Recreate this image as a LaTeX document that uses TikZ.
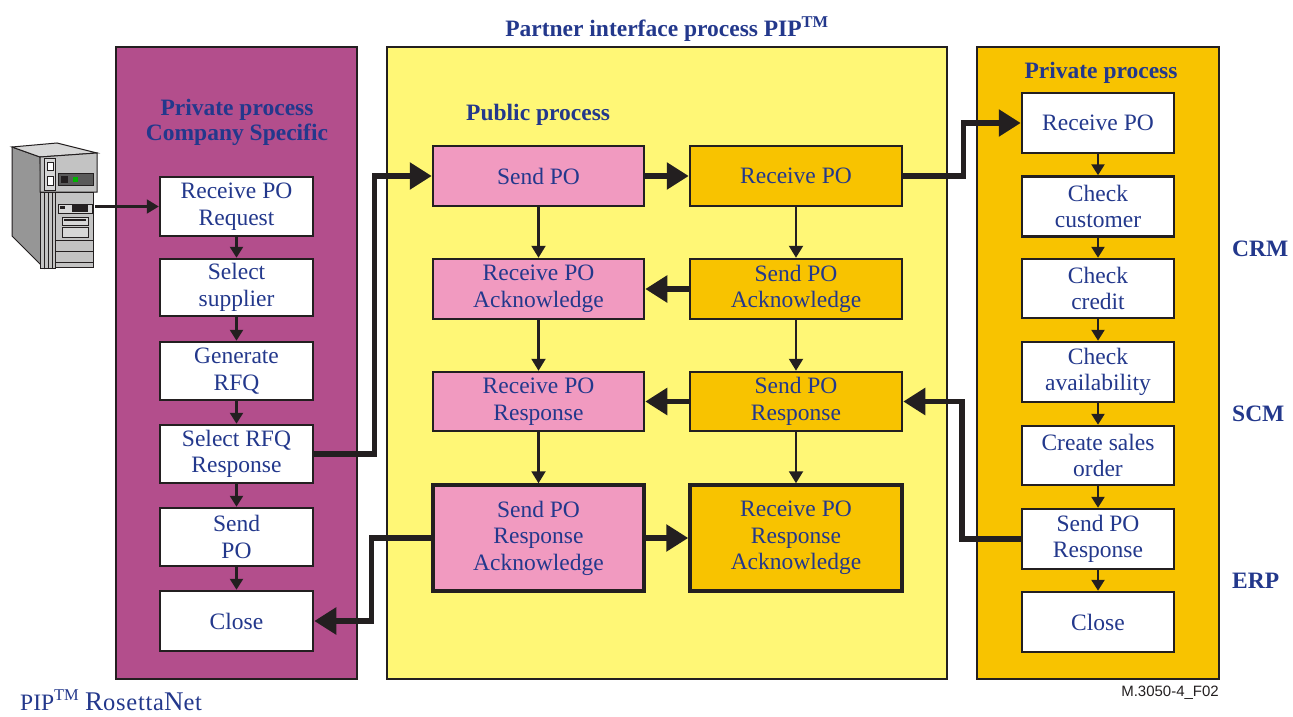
\documentclass[tikz,border=0pt]{standalone}
\usepackage{fontspec}
\setmainfont{Liberation Serif}
\newfontfamily\sansf{Liberation Sans}
\newfontfamily\rosfont[LetterSpace=3]{Liberation Serif}
\usetikzlibrary{arrows.meta}
\definecolor{purp}{RGB}{179,78,140}
\definecolor{yel}{RGB}{255,247,118}
\definecolor{org}{RGB}{248,195,0}
\definecolor{pnk}{RGB}{241,154,192}
\definecolor{navy}{RGB}{35,56,140}
\definecolor{ink}{RGB}{35,31,32}
\definecolor{srvside}{RGB}{150,150,150}
\definecolor{srvtop}{RGB}{215,215,215}
\definecolor{srvfront}{RGB}{195,195,195}
\definecolor{srvdark}{RGB}{90,90,90}
\begin{document}
\begin{tikzpicture}[x=1pt,y=-1pt,
  container/.style={draw=ink,line width=2.5pt,inner sep=0pt},
  boxtext/.style={inner sep=0pt,align=center,text=navy,font=\fontsize{23.5}{26.5}\selectfont},
  wbox/.style={boxtext,draw=ink,line width=2.5pt,fill=white,minimum width=153pt},
  pbox/.style={boxtext,draw=ink,line width=2.5pt,fill=pnk,minimum width=211pt},
  obox/.style={boxtext,draw=ink,line width=2.5pt,fill=org,minimum width=212pt},
  titletext/.style={inner sep=0pt,align=center,text=navy,font=\fontsize{23.5}{25}\selectfont\bfseries},
  bigarrow/.style={draw=ink,line width=5.5pt,line join=miter,-{Triangle[length=22pt,width=26pt]}},
  thinarrow/.style={draw=ink,line width=2.2pt,-{Triangle[length=12pt,width=14pt]}},
  smallarrow/.style={draw=ink,line width=2.5pt,-{Triangle[length=11pt,width=13pt]}},
]
\useasboundingbox (0,0) rectangle (1293,717);
\fill[white] (0,0) rectangle (1293,717);

% containers
\node (purpbox) [container,fill=purp,minimum width=241pt,minimum height=632pt] at (236.5,363) {};
\node (yelbox)  [container,fill=yel,minimum width=560pt,minimum height=632pt] at (667,363) {};
\node (orgbox)  [container,fill=org,minimum width=242pt,minimum height=632pt] at (1098,363) {};

% titles
\node (ttop) [titletext] at (667,29) {Partner interface process PIP\textsuperscript{TM}};
\node (tpub) [titletext,anchor=west] at (466,115) {Public process};
\node (tpriv) [titletext] at (1101,73) {Private process};
\node (tcomp) [titletext,font=\fontsize{23.5}{25.5}\selectfont\bfseries] at (237,122.5) {Private process\\Company Specific};
\node (tcrm) [titletext,anchor=west] at (1232,249) {CRM};
\node (tscm) [titletext,anchor=west] at (1232,414) {SCM};
\node (terp) [titletext,anchor=west] at (1232,581) {ERP};
\node (tfig) [inner sep=0pt,anchor=east,text=ink,font=\sansf\fontsize{15}{17}\selectfont] at (1219,693) {M.3050-4\_F02};
\node (tros) [inner sep=0pt,anchor=base west,text=navy,font=\fontsize{23.5}{25}\selectfont] at (20,710)
  {PIP\textsuperscript{TM} {\rosfont\fontsize{27}{28}\selectfont R\fontsize{24.5}{26}\selectfont osetta\fontsize{27}{28}\selectfont N\fontsize{24.5}{26}\selectfont et}};

% left column
\node (lr1) [wbox,minimum height=59pt] at (236.5,206.5) {Receive PO\\Request};
\node (lr2) [wbox,minimum height=57pt] at (236.5,287.5) {Select\\supplier};
\node (lr3) [wbox,minimum height=58pt] at (236.5,371) {Generate\\RFQ};
\node (lr4) [wbox,minimum height=58pt] at (236.5,454) {Select RFQ\\Response};
\node (lr5) [wbox,minimum height=58pt] at (236.5,537) {Send\\PO};
\node (lr6) [wbox,minimum height=60pt] at (236.5,621) {Close};

% middle columns
\node (p1) [pbox,minimum height=60pt] at (538.5,176) {Send PO};
\node (p2) [pbox,minimum height=60pt] at (538.5,289) {Receive PO\\Acknowledge};
\node (p3) [pbox,minimum height=59pt] at (538.5,401.5) {Receive PO\\Response};
\node (p4) [pbox,minimum height=106pt,line width=3.5pt] at (538.5,538) {Send PO\\Response\\Acknowledge};
\node (o1) [obox,minimum height=60pt] at (796,176) {Receive PO};
\node (o2) [obox,minimum height=60pt] at (796,289) {Send PO\\Acknowledge};
\node (o3) [obox,minimum height=59pt] at (796,401.5) {Send PO\\Response};
\node (o4) [obox,minimum height=106pt,line width=3.5pt] at (796,538) {Receive PO\\Response\\Acknowledge};

% right column
\node (rr1) [wbox,minimum width=152pt,minimum height=60pt] at (1098,123) {Receive PO};
\node (rr2) [wbox,minimum width=152pt,minimum height=60pt] at (1098,206.5) {Check\\customer};
\node (rr3) [wbox,minimum width=152pt,minimum height=59pt] at (1098,288.5) {Check\\credit};
\node (rr4) [wbox,minimum width=152pt,minimum height=60pt] at (1098,372) {Check\\availability};
\node (rr5) [wbox,minimum width=152pt,minimum height=59pt] at (1098,455.5) {Create sales\\order};
\node (rr6) [wbox,minimum width=152pt,minimum height=60pt] at (1098,539) {Send PO\\Response};
\node (rr7) [wbox,minimum width=152pt,minimum height=60pt] at (1098,622) {Close};

% server icon
\draw[ink,line width=1pt,fill=srvside] (12,147) -- (40,157) -- (44,268) -- (12,236) -- cycle;
\draw[ink,line width=1pt,fill=srvtop] (12,147) -- (57,143) -- (97,153) -- (40,157) -- cycle;
\draw[ink,line width=1pt,fill=srvfront] (40,157) -- (97,153) -- (97,192) -- (40,192) -- cycle;
\draw[ink,line width=1pt,fill=srvfront] (40,192) rectangle (55,268);
\foreach \sx in {44,48,52} \draw[ink,line width=0.8pt] (\sx,192) -- (\sx,268);
\draw[ink,line width=1pt,fill=srvfront] (55,192) rectangle (93,267);
\draw[ink,line width=0.8pt,fill=srvtop] (44,158) rectangle (55,190);
\draw[ink,line width=0.8pt,fill=white] (47,162) rectangle (53,170);
\draw[ink,line width=0.8pt,fill=white] (47,176) rectangle (53,185);
\draw[ink,line width=0.8pt,fill=srvdark] (58,173) rectangle (93,185);
\fill[green!70!black] (73,177) rectangle (78,182);
\fill[ink] (61,176) rectangle (68,183);
\draw[ink,line width=0.8pt,fill=srvtop] (58,204) rectangle (92,213);
\fill[ink] (60,206) rectangle (65,209);
\fill[ink] (72,205) rectangle (88,212);
\draw[ink,line width=0.8pt,fill=srvtop] (62,217) rectangle (88,225);
\fill[ink] (64,219) rectangle (86,221);
\draw[ink,line width=0.8pt,fill=srvtop] (62,227) rectangle (88,237);
\foreach \sy in {240,251,262} \draw[ink,line width=0.8pt] (55,\sy) -- (93,\sy);
\coordinate (srv) at (95,206.5);

% connectors
\draw[thinarrow] (srv) -- (lr1.west);
\foreach \a/\b in {lr1/lr2,lr2/lr3,lr3/lr4,lr4/lr5,lr5/lr6,rr1/rr2,rr2/rr3,rr3/rr4,rr4/rr5,rr5/rr6,rr6/rr7}
  \draw[smallarrow] (\a.south) -- (\b.north);
\foreach \a/\b in {p1/p2,p2/p3,p3/p4,o1/o2,o2/o3,o3/o4}
  \draw[thinarrow] (\a.south) -- (\b.north);

\draw[bigarrow] (lr4.east) -- ++(60,0) |- (p1.west);
\draw[bigarrow] (p1.east) -- (o1.west);
\draw[bigarrow] (o1.east) -- ++(60,0) |- (rr1.west);
\draw[bigarrow] (o2.west) -- (p2.east);
\draw[bigarrow] (o3.west) -- (p3.east);
\draw[bigarrow] (rr6.west) -- ++(-59,0) |- (o3.east);
\draw[bigarrow] (p4.east) -- (o4.west);
\draw[bigarrow] (p4.west) -- ++(-60,0) |- (lr6.east);
\end{tikzpicture}
\end{document}
